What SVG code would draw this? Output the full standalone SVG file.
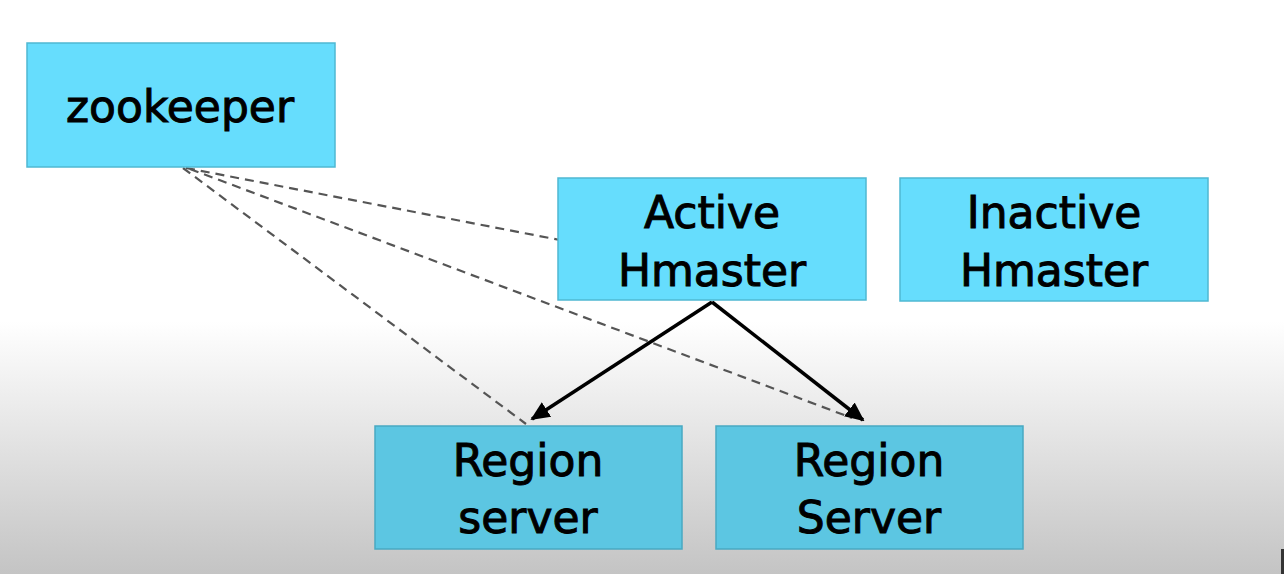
<svg xmlns="http://www.w3.org/2000/svg" width="1284" height="574" viewBox="0 0 1284 574">
<defs>
<linearGradient id="bg" x1="0" y1="0" x2="0" y2="574" gradientUnits="userSpaceOnUse">
<stop offset="0" stop-color="#ffffff"/>
<stop offset="0.56" stop-color="#ffffff"/>
<stop offset="1" stop-color="#c4c4c4"/>
</linearGradient>
<marker id="arr" viewBox="0 0 10 10" refX="9" refY="5" markerWidth="5.5" markerHeight="5.5" orient="auto" markerUnits="strokeWidth">
<path d="M0,0.5 L10,5 L0,9.5 Z" fill="#000"/>
</marker>
<style>
.box{fill:#66ddfd;stroke:#4fb8d2;stroke-width:1.5}
.boxl{fill:#5cc6e2;stroke:#48a9c2;stroke-width:1.5}
.t{font-family:"DejaVu Sans",Verdana,sans-serif;font-size:44px;fill:#000;stroke:#000;stroke-width:1;text-anchor:middle}
.dash{stroke:#555;stroke-width:2.2;stroke-dasharray:9,6;fill:none}
.solid{stroke:#000;stroke-width:3.5;fill:none}
</style>
</defs>
<rect width="1284" height="574" fill="url(#bg)"/>
<g id="connectors">
<line class="dash" x1="186" y1="168" x2="560" y2="240"/>
<line class="dash" x1="190" y1="169" x2="852" y2="418"/>
<line class="dash" x1="183" y1="168" x2="526" y2="424"/>
<line class="solid" x1="712" y1="302" x2="532" y2="419" marker-end="url(#arr)"/>
<line class="solid" x1="712" y1="302" x2="863" y2="420" marker-end="url(#arr)"/>
</g>
<g id="zookeeper">
<rect class="box" x="27" y="43" width="308" height="124"/>
<text class="t" x="180" y="122">zookeeper</text>
</g>
<g id="active-hmaster">
<rect class="box" x="558" y="178" width="308" height="122"/>
<text class="t" x="712" y="228">Active</text>
<text class="t" x="712" y="286">Hmaster</text>
</g>
<g id="inactive-hmaster">
<rect class="box" x="900" y="178" width="308" height="123"/>
<text class="t" x="1054" y="228">Inactive</text>
<text class="t" x="1054" y="286">Hmaster</text>
</g>
<g id="region-server-1">
<rect class="boxl" x="375" y="426" width="307" height="123"/>
<text class="t" x="528" y="476">Region</text>
<text class="t" x="528" y="533">server</text>
</g>
<g id="region-server-2">
<rect class="boxl" x="716" y="426" width="307" height="123"/>
<text class="t" x="869" y="476">Region</text>
<text class="t" x="869" y="533">Server</text>
</g>
<rect x="1281" y="549" width="3" height="25" fill="#333"/>
</svg>
